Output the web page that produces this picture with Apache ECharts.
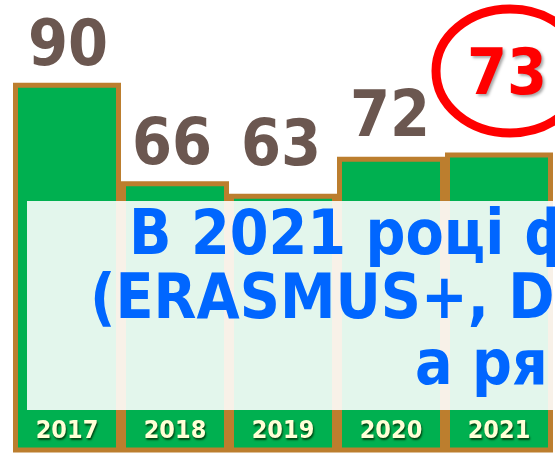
<!DOCTYPE html>
<html>
<head>
<meta charset="utf-8">
<script src="https://cdn.jsdelivr.net/npm/echarts@6/dist/echarts.min.js"></script>
<style>
html,body{margin:0;padding:0;background:#fff;}
#c{width:555px;height:455px;}
</style>
</head>
<body>
<div id="c"></div>
<script>
const categories = ['2017', '2018', '2019', '2020', '2021'];
const values = [90, 66, 63, 72, 73];
const highlightYear = '2021';
const noteLines = ['В 2021 році ф', '(ERASMUS+, D', 'а ря'];

const FONT = '"DejaVu Sans Condensed", "DejaVu Sans", sans-serif';
// label nudges (style only)
const labelOffsets = [[1, -2], [-3, -2], [-2, -13], [-1, -5], [8, -43]];

const chart = echarts.init(document.getElementById('c'), null, {renderer: 'canvas'});

const seriesData = values.map((v, i) => {
  const hl = categories[i] === highlightYear;
  return {
    value: v,
    label: {
      offset: labelOffsets[i],
      color: hl ? '#FF0000' : '#6B5750',
      textShadowColor: hl ? 'rgba(0,0,0,0.35)' : 'transparent',
      textShadowBlur: hl ? 3 : 0,
      textShadowOffsetX: hl ? 2 : 0,
      textShadowOffsetY: hl ? 2 : 0
    }
  };
});

const baseGraphic = [
  {
    id: 'note-bg', type: 'rect', z: 50,
    shape: {x: 27, y: 201, width: 540, height: 209},
    style: {fill: 'rgba(255,255,255,0.89)'}
  },
  {
    id: 'note1', type: 'text', z: 60,
    style: {text: noteLines[0], x: 129, y: 238, font: 'bold 62px ' + FONT, fill: '#0066FF', verticalAlign: 'middle'}
  },
  {
    id: 'note2', type: 'text', z: 60,
    style: {text: noteLines[1], x: 90, y: 302, font: 'bold 62px ' + FONT, fill: '#0066FF', verticalAlign: 'middle'}
  },
  {
    id: 'note3', type: 'text', z: 60,
    style: {text: noteLines[2], x: 415, y: 368, font: 'bold 62px ' + FONT, fill: '#0066FF', verticalAlign: 'middle'}
  }
];

chart.setOption({
  animation: false,
  backgroundColor: '#ffffff',
  grid: {left: 13, right: 2, top: 0.5, bottom: 2.5, containLabel: false, outerBoundsMode: 'none'},
  xAxis: {
    type: 'category',
    data: categories,
    axisLine: {show: false},
    axisTick: {show: false},
    axisLabel: {
      inside: true,
      margin: 9,
      color: '#FFFFD6',
      fontFamily: FONT,
      fontWeight: 'bold',
      fontSize: 25,
      textShadowColor: 'rgba(0,40,0,0.8)',
      textShadowBlur: 2,
      textShadowOffsetX: 1,
      textShadowOffsetY: 2
    },
    z: 10
  },
  yAxis: {
    type: 'value',
    min: 0,
    max: 110,
    show: false,
    splitLine: {show: false}
  },
  series: [{
    type: 'bar',
    data: seriesData,
    barWidth: '100%',
    barCategoryGap: '0%',
    itemStyle: {
      color: '#00B050',
      borderColor: '#BC7E2E',
      borderWidth: 5
    },
    label: {
      show: true,
      position: 'top',
      distance: 0,
      fontFamily: FONT,
      fontWeight: 'bold',
      fontSize: 64
    }
  }],
  graphic: baseGraphic
});

// red ellipse around the highlighted value
const idx = categories.indexOf(highlightYear);
const p = chart.convertToPixel({xAxisIndex: 0, yAxisIndex: 0}, [categories[idx], values[idx]]);
chart.setOption({
  graphic: [
    {
      id: 'hl-ellipse', type: 'ellipse', z: 70,
      shape: {cx: p[0] + 11, cy: 71, rx: 74, ry: 62},
      style: {fill: 'none', stroke: '#FF0000', lineWidth: 9}
    }
  ]
});
</script>
</body>
</html>
